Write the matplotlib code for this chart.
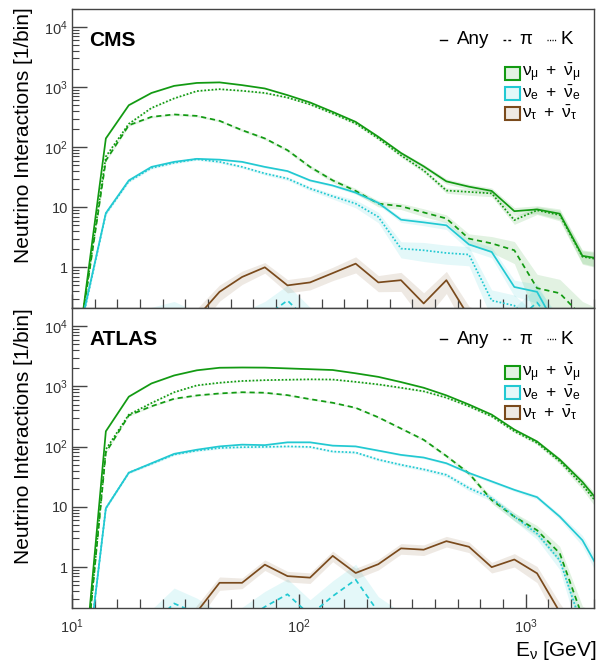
import numpy as np
import matplotlib
matplotlib.use('Agg')
import matplotlib.pyplot as plt
from matplotlib.patches import Rectangle
from matplotlib.lines import Line2D
from matplotlib.ticker import FixedLocator, NullFormatter

plt.rcParams['font.family'] = ['Liberation Sans', 'DejaVu Sans']
plt.rcParams['mathtext.fontset'] = 'custom'
plt.rcParams['mathtext.rm'] = 'Liberation Sans'
plt.rcParams['mathtext.it'] = 'Liberation Sans'
plt.rcParams['mathtext.bf'] = 'Liberation Sans:bold'

# bin centres [GeV]
energy = [11.2, 14.1, 17.8, 22.4, 28.2, 35.5, 44.7, 56.2, 70.8, 89.1, 112, 141,
          178, 224, 282, 355, 447, 562, 708, 891, 1122, 1413, 1778, 2239]

# ---- CMS ----
cms_numu_any = [0.19, 140, 500, 800, 1050, 1175, 1200, 1080, 950, 736, 556, 387,
                264, 149, 80, 48, 27, 22, 18.7, 8.6, 9.2, 7.8, 1.55, 1.35]
cms_numu_k = [0.18, 70, 245, 450, 650, 860, 925, 870, 800, 670, 516, 364,
              248, 140, 73, 41, 19, 18, 17, 6.1, 8.9, 7.4, 1.5, 1.3]
cms_numu_pi = [0.17, 60, 232, 320, 351, 332, 275, 192, 140, 89, 47, 28,
               18.7, 11.5, 10.4, 8.2, 6.5, 3.0, 2.5, 1.92, 0.45, 0.37, 0.15, 0.1]
cms_nue_any = [0.16, 8.0, 28, 47, 57, 64, 62, 57, 47, 40, 28, 23,
               17.5, 11.8, 6.2, 5.6, 5.0, 2.4, 1.8, 0.47, 0.39, 0.08, 0.05, 0.05]
cms_nue_k = [0.15, 7.8, 27, 45, 55, 63, 57, 47, 36.5, 30, 20.5, 15.2,
             11.5, 6.9, 2.05, 1.92, 1.73, 1.63, 0.28, 0.23, 0.1, 0.05, 0.05, 0.05]
cms_nue_pi = [0.02, 0.05, 0.1, 0.12, 0.15, 0.1, 0.08, 0.1, 0.15, 0.28, 0.12, 0.08,
              0.1, 0.1, 0.05, 0.08, 0.1, 0.08, 0.1, 0.12, 0.26, 0.08, 0.05, 0.05]
cms_nutau_any = [0.01, 0.01, 0.01, 0.01, 0.05, 0.146, 0.39, 0.69, 1.0, 0.5, 0.56, 0.8,
                 1.15, 0.56, 0.61, 0.25, 0.61, 0.15, 0.1, 0.05, 0.05, 0.05, 0.05, 0.05]

# relative widths of the shaded bands
cms_numu_any_err = [0.05, 0.03, 0.02, 0.02, 0.02, 0.02, 0.02, 0.02, 0.02, 0.03, 0.03, 0.03,
                    0.04, 0.05, 0.06, 0.08, 0.1, 0.1, 0.12, 0.15, 0.15, 0.2, 0.25, 0.3]
cms_numu_k_err = [0.05, 0.03, 0.02, 0.02, 0.02, 0.02, 0.02, 0.02, 0.03, 0.03, 0.03, 0.04,
                  0.05, 0.06, 0.07, 0.08, 0.1, 0.12, 0.12, 0.15, 0.15, 0.2, 0.25, 0.3]
cms_numu_pi_err = [0.1, 0.05, 0.04, 0.04, 0.04, 0.04, 0.04, 0.05, 0.05, 0.06, 0.07, 0.08,
                   0.1, 0.12, 0.12, 0.15, 0.15, 0.2, 0.3, 0.4, 0.7, 0.7, 0.8, 0.8]
cms_nue_any_err = [0.1, 0.04, 0.03, 0.03, 0.03, 0.03, 0.03, 0.03, 0.04, 0.04, 0.05, 0.05,
                   0.06, 0.08, 0.1, 0.12, 0.15, 0.2, 0.2, 0.3, 0.35, 0.5, 0.5, 0.5]
cms_nue_k_err = [0.1, 0.05, 0.04, 0.04, 0.04, 0.04, 0.05, 0.05, 0.06, 0.07, 0.08, 0.1,
                 0.15, 0.2, 0.3, 0.35, 0.35, 0.35, 0.5, 0.5, 0.6, 0.6, 0.6, 0.6]
cms_nue_pi_err = [0.8] * 24
cms_nutau_any_err = [0.5, 0.5, 0.5, 0.5, 0.5, 0.4, 0.3, 0.25, 0.2, 0.25, 0.25, 0.25,
                     0.3, 0.3, 0.35, 0.5, 0.4, 0.5, 0.5, 0.5, 0.5, 0.5, 0.5, 0.5]

# ---- ATLAS ----
atlas_numu_any = [0.013, 180, 675, 1120, 1520, 1850, 2040, 2060, 2050, 1990, 1930, 1870,
                  1650, 1440, 1180, 950, 710, 500, 340, 192, 122, 61, 26, 9]
atlas_numu_k = [0.01, 90, 340, 530, 800, 1040, 1150, 1230, 1270, 1290, 1310, 1300,
                1190, 1080, 950, 830, 650, 468, 318, 180, 115, 57, 23, 8]
atlas_numu_pi = [0.01, 80, 330, 468, 624, 708, 764, 800, 785, 716, 615, 535,
                 441, 307, 200, 130, 70, 36, 13, 6.9, 4.1, 1.7, 0.15, 0.1]
atlas_nue_any = [0.007, 9.5, 37, 53, 76, 89, 101, 108, 106, 118, 118, 104,
                 101, 86, 73, 66, 53, 36.6, 26.5, 19.2, 14.5, 6.9, 2.8, 0.6]
atlas_nue_k = [0.007, 9.5, 37, 52, 74, 86, 95, 98, 99, 101, 99, 83,
               80, 61, 50, 42, 34, 20.5, 14, 6.9, 3.6, 1.3, 0.1, 0.05]
atlas_nue_pi = [0.005, 0.01, 0.05, 0.11, 0.25, 0.17, 0.1, 0.12, 0.22, 0.355, 0.16, 0.33,
                0.62, 0.18, 0.1, 0.12, 0.1, 0.1, 0.05, 0.05, 0.05, 0.05, 0.05, 0.05]
atlas_nutau_any = [0.001, 0.001, 0.001, 0.01, 0.05, 0.18, 0.55, 0.55, 1.1, 0.71, 0.67, 1.54,
                   0.8, 1.12, 2.05, 1.95, 2.7, 2.18, 1.0, 1.34, 0.79, 0.18, 0.05, 0.05]

atlas_numu_any_err = [0.1, 0.02, 0.02, 0.02, 0.02, 0.02, 0.02, 0.02, 0.02, 0.02, 0.02, 0.02,
                      0.02, 0.02, 0.03, 0.03, 0.03, 0.03, 0.03, 0.04, 0.05, 0.08, 0.12, 0.2]
atlas_numu_k_err = [0.1, 0.02, 0.02, 0.02, 0.02, 0.02, 0.02, 0.02, 0.02, 0.02, 0.02, 0.02,
                    0.02, 0.03, 0.03, 0.03, 0.03, 0.04, 0.04, 0.05, 0.06, 0.1, 0.15, 0.25]
atlas_numu_pi_err = [0.1, 0.03, 0.03, 0.03, 0.03, 0.03, 0.03, 0.03, 0.03, 0.03, 0.03, 0.03,
                     0.03, 0.04, 0.04, 0.05, 0.06, 0.08, 0.12, 0.15, 0.2, 0.3, 0.5, 0.5]
atlas_nue_any_err = [0.1, 0.04, 0.03, 0.03, 0.03, 0.03, 0.03, 0.03, 0.03, 0.03, 0.03, 0.03,
                     0.03, 0.04, 0.04, 0.04, 0.05, 0.05, 0.06, 0.06, 0.08, 0.1, 0.2, 0.3]
atlas_nue_k_err = [0.1, 0.04, 0.04, 0.04, 0.04, 0.04, 0.04, 0.04, 0.04, 0.04, 0.04, 0.04,
                   0.05, 0.05, 0.06, 0.06, 0.08, 0.1, 0.12, 0.15, 0.2, 0.3, 0.5, 0.5]
atlas_nue_pi_err = [0.8] * 24
atlas_nutau_any_err = [0.3, 0.3, 0.3, 0.3, 0.3, 0.3, 0.25, 0.2, 0.2, 0.2, 0.2, 0.2,
                       0.2, 0.2, 0.2, 0.2, 0.2, 0.2, 0.2, 0.25, 0.3, 0.4, 0.5, 0.5]

GREEN = '#129a12'
CYAN = '#22c9d2'
BROWN = '#7a4a1c'
STYLES = {'any': '-', 'pi': (0, (3.0, 2.2)), 'k': (0, (1.0, 1.1))}

panels = [
    ('CMS', [
        (cms_numu_any, cms_numu_any_err, GREEN, 'any'),
        (cms_numu_pi, cms_numu_pi_err, GREEN, 'pi'),
        (cms_numu_k, cms_numu_k_err, GREEN, 'k'),
        (cms_nue_any, cms_nue_any_err, CYAN, 'any'),
        (cms_nue_pi, cms_nue_pi_err, CYAN, 'pi'),
        (cms_nue_k, cms_nue_k_err, CYAN, 'k'),
        (cms_nutau_any, cms_nutau_any_err, BROWN, 'any'),
    ]),
    ('ATLAS', [
        (atlas_numu_any, atlas_numu_any_err, GREEN, 'any'),
        (atlas_numu_pi, atlas_numu_pi_err, GREEN, 'pi'),
        (atlas_numu_k, atlas_numu_k_err, GREEN, 'k'),
        (atlas_nue_any, atlas_nue_any_err, CYAN, 'any'),
        (atlas_nue_pi, atlas_nue_pi_err, CYAN, 'pi'),
        (atlas_nue_k, atlas_nue_k_err, CYAN, 'k'),
        (atlas_nutau_any, atlas_nutau_any_err, BROWN, 'any'),
    ]),
]

W, H = 607, 662
fig = plt.figure(figsize=(W / 100, H / 100), dpi=100)
ax_top = fig.add_axes([72 / W, 1 - 308 / H, 522 / W, 299 / H])
ax_bot = fig.add_axes([72 / W, 1 - 608 / H, 522 / W, 300 / H])

x = np.array(energy)
minor_x = [10 ** p for p in np.arange(1.1, 3.31, 0.1) if abs(p - round(p)) > 0.01]


def ax_xy(px, py):
    # pixel position inside the top panel -> axes fraction
    return (px - 72) / 522, (308 - py) / 299


for ax, (name, series) in zip([ax_top, ax_bot], panels):
    ax.set_xscale('log')
    ax.set_yscale('log')

    for vals, err, col, comp in series:
        v = np.array(vals)
        e = np.array(err)
        ax.fill_between(x, v * (1 - e), v * (1 + e), color=col, alpha=0.12, lw=0)
    for vals, err, col, comp in series:
        ax.plot(x, vals, color=col, lw=1.25, ls=STYLES[comp])

    ax.set_xlim(10, 2000)
    ax.set_ylim(0.21, 2.0e4)

    # axis styling
    for sp in ax.spines.values():
        sp.set_color('#444444')
        sp.set_linewidth(1.0)
    ax.set_yticks([1, 10, 100, 1000, 10000])
    ax.set_yticklabels(['1', '10', r'$10^2$', r'$10^3$', r'$10^4$'])
    ax.yaxis.set_minor_locator(FixedLocator(
        [m * 10.0 ** d for d in range(-1, 5) for m in range(2, 10)]))
    ax.yaxis.set_minor_formatter(NullFormatter())
    ax.tick_params(axis='y', which='major', direction='in', length=11, width=1.0,
                   color='#444444', labelsize=10.5, labelcolor='#333333', pad=3,
                   left=True, right=False)
    ax.tick_params(axis='y', which='minor', direction='in', length=5, width=0.8,
                   color='#444444', left=True, right=False)
    ax.set_xticks([10, 100, 1000])
    ax.xaxis.set_minor_locator(FixedLocator(minor_x))
    ax.xaxis.set_minor_formatter(NullFormatter())
    ax.tick_params(axis='x', which='major', direction='in', length=10, width=1.0,
                   color='#444444', labelsize=10.5, labelcolor='#333333', pad=7,
                   top=False, bottom=True)
    ax.tick_params(axis='x', which='minor', direction='in', length=6.5, width=0.9,
                   color='#444444', top=False, bottom=True)

    # experiment label
    tx, ty = ax_xy(89, 40)
    ax.text(tx, ty, name, transform=ax.transAxes, fontsize=15, fontweight='bold',
            ha='left', va='center')

    # line style key
    for x0, x1, ls, label, lx in [(440, 447, '-', 'Any', 457),
                                  (503, 511, (0, (2.0, 1.5)), r'$\pi$', 519),
                                  (547, 556, (0, (0.8, 1.0)), 'K', 561)]:
        a0, yy = ax_xy(x0, 40)
        a1, _ = ax_xy(x1, 40)
        ax.add_line(Line2D([a0, a1], [yy, yy], transform=ax.transAxes, color='black',
                           lw=1.0, ls=ls))
        la, ly = ax_xy(lx, 40)
        ax.text(la, ly, label, transform=ax.transAxes, fontsize=13.5, ha='left',
                va='center')

    # flavour legend
    flav = [(GREEN, r'$\nu_\mu\ +\ \bar{\nu}_\mu$', 73),
            (CYAN, r'$\nu_e\ +\ \bar{\nu}_e$', 93),
            (BROWN, r'$\nu_\tau\ +\ \bar{\nu}_\tau$', 113)]
    for col, lab, yc in flav:
        bx, by = ax_xy(505, yc + 6.5)
        bw = 15 / 522
        bh = 13 / 299
        ax.add_patch(Rectangle((bx, by), bw, bh, transform=ax.transAxes,
                               facecolor=matplotlib.colors.to_rgba(col, 0.12),
                               edgecolor=col, lw=1.5))
        tx, ty = ax_xy(522, yc)
        ax.text(tx, ty, lab, transform=ax.transAxes, fontsize=12.5, ha='left',
                va='center')

ax_top.set_xticklabels([])
ax_bot.set_xticklabels([r'$10^1$', r'$10^2$', r'$10^3$'])

# axis titles
for ytop in [7, 308]:
    fig.text(24 / W, 1 - ytop / H, 'Neutrino Interactions [1/bin]', rotation=90,
             ha='center', va='top', fontsize=15)
fig.text(597 / W, 1 - 650 / H, r'E$_\nu$ [GeV]', ha='right', va='center', fontsize=15)

fig.savefig('out.png', dpi=100)
